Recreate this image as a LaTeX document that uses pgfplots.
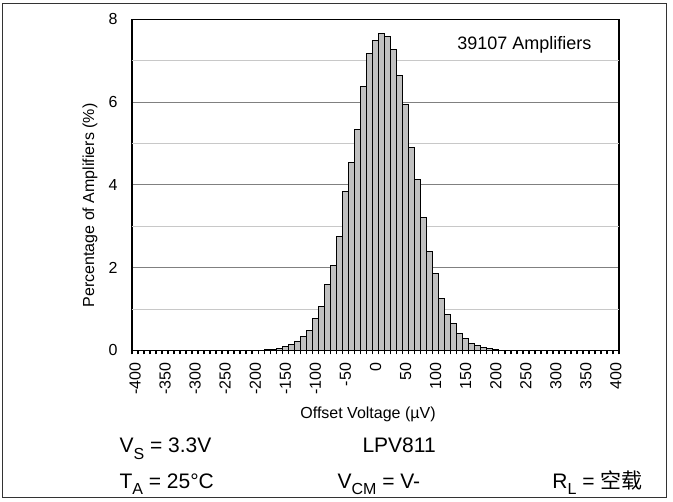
\documentclass[border=0pt]{standalone}
\usepackage{pgfplots}
\pgfplotsset{compat=1.18}
\usepackage{fontspec}
\setmainfont{Liberation Sans}
\newfontfamily\cjk{Noto Sans CJK SC}
\definecolor{barfill}{RGB}{192,192,192}
\definecolor{gridlight}{RGB}{200,200,200}
\definecolor{griddark}{RGB}{128,128,128}
\newcommand\sub[1]{\raisebox{-0.3em}{\fontsize{16}{16}\selectfont #1}}
\pgfplotstableread{
x y
-180 0.01
-170 0.02
-160 0.05
-150 0.09
-140 0.15
-130 0.22
-120 0.33
-110 0.49
-100 0.78
-90 1.07
-80 1.59
-70 2.06
-60 2.76
-50 3.83
-40 4.54
-30 5.34
-20 6.37
-10 7.17
0 7.50
10 7.66
20 7.58
30 7.28
40 6.65
50 5.95
60 4.90
70 4.13
80 3.21
90 2.39
100 1.85
110 1.25
120 0.87
130 0.65
140 0.41
150 0.28
160 0.17
170 0.12
180 0.07
190 0.04
200 0.02
}\histdata
\begin{document}
\begin{tikzpicture}[x=1pt,y=1pt]
\useasboundingbox (-132,-151.6) rectangle (541,350.4);
\draw[line width=1pt, black!80] (-129,-147.6) rectangle (534,346.4);
\begin{axis}[
  at={(0,0)}, anchor=south west, scale only axis,
  width=487pt, height=331pt,
  xmin=-405, xmax=405, ymin=0, ymax=8,
  xtick={-400,-350,...,400},
  xticklabels={-400,-350,-300,-250,-200,-150,-100,-50,0,50,100,150,200,250,300,350,400},
  minor xtick={-405,-395,...,405},
  ytick={0,2,4,6,8},
  yticklabels={0,2,4,6,8},
  major tick length=0pt, minor tick length=4pt,
  tick align=outside,
  xtick pos=bottom, ytick pos=left,
  ytick style={draw=none},
  minor tick style={line width=1.5pt, black},
  axis line style={line width=1.5pt, black},
  ymajorgrids, major grid style={griddark, line width=1pt},
  tick label style={font=\fontsize{16}{16}\selectfont},
  xticklabel style={rotate=90, anchor=east, xshift=-9pt},
  yticklabel style={xshift=-11pt},
]
\addplot[gridlight, line width=1pt, forget plot] coordinates {(-405,1) (405,1)};
\addplot[gridlight, line width=1pt, forget plot] coordinates {(-405,3) (405,3)};
\addplot[gridlight, line width=1pt, forget plot] coordinates {(-405,5) (405,5)};
\addplot[gridlight, line width=1pt, forget plot] coordinates {(-405,7) (405,7)};
\addplot[ybar, bar width=10, bar shift=0pt, fill=barfill, draw=black, line width=1pt] table[x=x, y=y] {\histdata};
\end{axis}
\node[rotate=90, anchor=center, font=\fontsize{16}{16}\selectfont] at (-42,145) {Percentage of Amplifiers (\%)};
\node[anchor=base, font=\fontsize{16}{16}\selectfont] at (236,-68) {Offset Voltage (µV)};
\node[anchor=base east, font=\fontsize{18}{18}\selectfont] at (463,300.4) {39107 Amplifiers};
\begin{scope}[every node/.style={font=\fontsize{21}{21}\selectfont}]
\node[anchor=base west] at (-16,-102.4) {V\sub{S} = 3.3V};
\node[anchor=base west] at (227,-102.4) {LPV811};
\node[anchor=base west] at (-16,-138) {T\sub{A} = 25°C};
\node[anchor=base west] at (202,-138) {V\sub{CM} = V-};
\node[anchor=base east] at (514,-138) {R\sub{L} = {\cjk 空载}};
\end{scope}
\end{tikzpicture}
\end{document}
